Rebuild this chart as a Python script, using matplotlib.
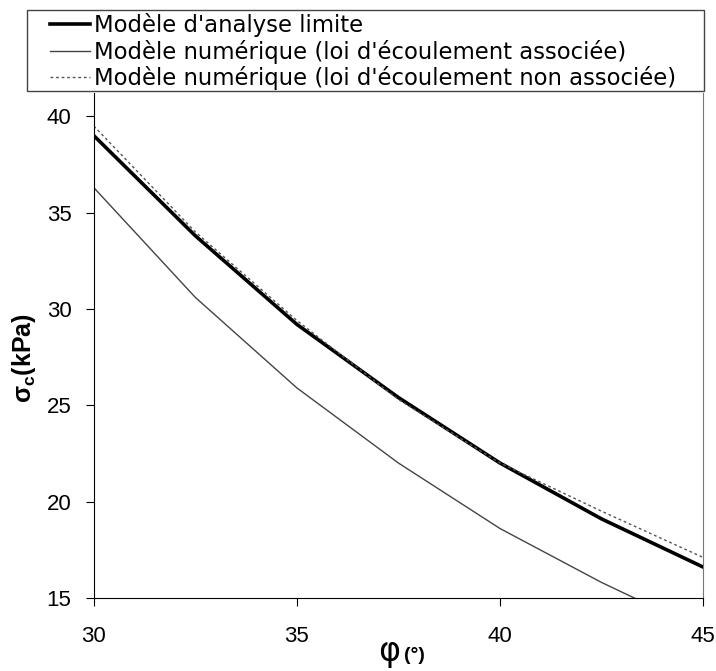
import numpy as np
import matplotlib.pyplot as plt
from matplotlib.patches import Rectangle

phi = [30, 32.5, 35, 37.5, 40, 42.5, 45]
analyse_limite = [39.0, 33.8, 29.2, 25.4, 22.0, 19.1, 16.6]
num_associee = [36.3, 30.6, 25.9, 22.0, 18.6, 15.8, 13.3]
num_non_associee = [39.5, 34.0, 29.4, 25.3, 22.0, 19.5, 17.1]

plt.rcParams['font.family'] = ['Liberation Sans', 'DejaVu Sans']

fig = plt.figure(figsize=(7.16, 6.71), dpi=100)
ax = fig.add_axes([0.131, 0.109, 0.851, 0.752])

l1, = ax.plot(phi, analyse_limite, color='black', lw=2.6)
l2, = ax.plot(phi, num_associee, color='#444444', lw=1.0)
l3, = ax.plot(phi, num_non_associee, color='#555555', lw=1.0, ls=(0, (2, 2)))

ax.set_xlim(30, 45)
ax.set_ylim(15, 41.2)
ax.set_xticks([30, 35, 40, 45])
ax.set_yticks([15, 20, 25, 30, 35, 40])
ax.tick_params(labelsize=16, length=6, direction='out')
ax.tick_params(axis='y', pad=10)
ax.tick_params(axis='x', pad=14)
ax.spines['top'].set_visible(False)
ax.spines['right'].set_color('#777777')

# labels des axes
fig.text(0.559, 0.004, 'φ', fontsize=24, family='DejaVu Sans', ha='right', va='bottom')
fig.text(0.564, 0.010, '(°)', fontsize=14, fontweight='bold', ha='left', va='bottom')
ax.set_ylabel(r'$\mathregular{\sigma_c}$' + '(kPa)', fontsize=18, fontweight='bold')
ax.yaxis.set_label_coords(-0.092, 0.475)

# cadre de la légende
fig.patches.append(Rectangle((27 / 716, 1 - 91 / 671), 677 / 716, 81 / 671,
                             transform=fig.transFigure, fill=False,
                             edgecolor='#444444', lw=1.0))
leg = fig.legend([l1, l2, l3],
                 ["Modèle d'analyse limite",
                  "Modèle numérique (loi d'écoulement associée)",
                  "Modèle numérique (loi d'écoulement non associée)"],
                 loc='upper left', bbox_to_anchor=(50 / 716, 1 - 13 / 671),
                 frameon=False, handlelength=1.75, handletextpad=0.2,
                 labelspacing=0.12, borderpad=0.0, borderaxespad=0.0,
                 prop={'family': 'DejaVu Sans', 'size': 16.4})

fig.savefig('out.png', dpi=100)
